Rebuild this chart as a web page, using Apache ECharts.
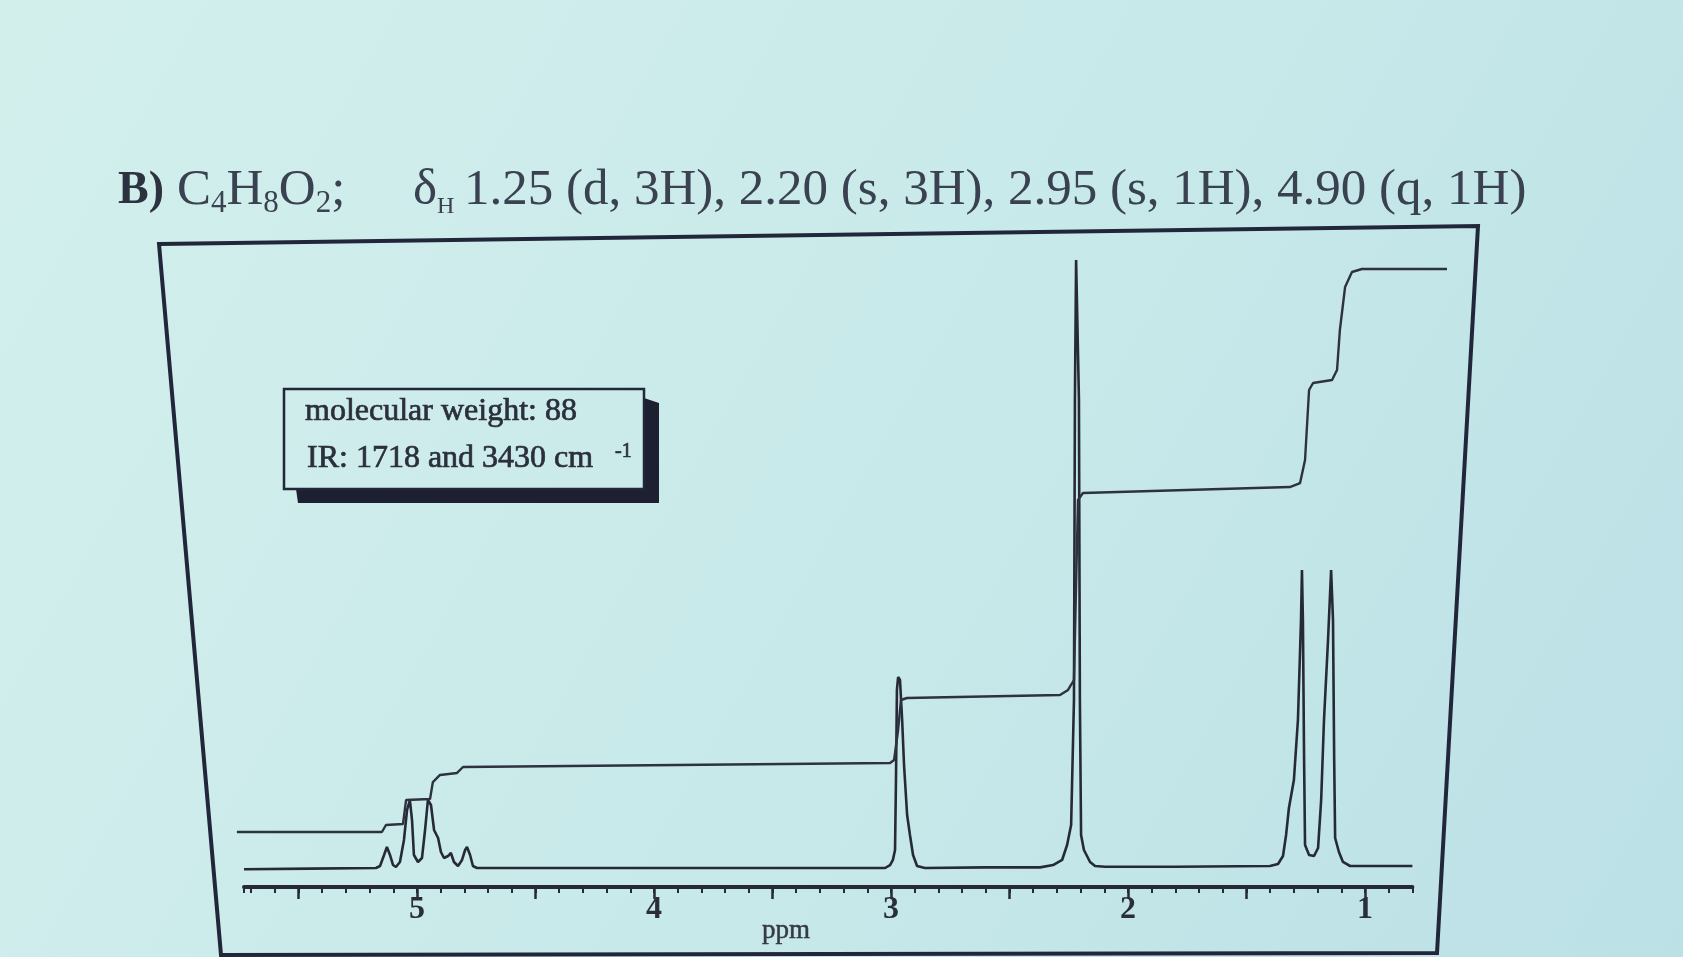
<!DOCTYPE html>
<html><head><meta charset="utf-8">
<script src="https://cdn.jsdelivr.net/npm/echarts@6/dist/echarts.min.js"></script>
<style>html,body{margin:0;padding:0;width:1683px;height:957px;overflow:hidden;background:#cbeaea}#c{width:1683px;height:957px}</style>
</head><body><div id="c"></div><script>
// 1H NMR trace (ppm, relative intensity; tallest peak = 100)
const spectrumPpm = [5.73,5.45,5.173,5.156,5.139,5.127,5.114,5.101,5.089,5.072,5.055,5.042,5.030,5.021,5.013,4.996,4.979,4.966,4.954,4.941,4.928,4.911,4.899,4.886,4.869,4.857,4.844,4.827,4.810,4.797,4.789,4.776,4.764,4.747,4.20,3.40,
  3.025,3.004,2.992,2.983,2.979,2.975,2.970,2.962,2.953,2.945,2.932,2.920,2.907,2.890,2.857,2.60,
  2.371,2.316,2.278,2.257,2.240,2.228,2.224,2.219,2.211,2.207,2.203,2.198,2.186,2.160,2.139,2.097,1.80,
  1.401,1.367,1.346,1.333,1.321,1.300,1.283,1.270,1.266,1.262,1.257,1.253,1.236,1.215,1.198,1.185,1.173,1.156,1.143,1.135,1.130,1.126,1.110,1.093,1.063,0.80];
const spectrumIntensity = [-0.2,-0.1,0,0.33,2.14,3.45,2.14,0.49,0.16,0.99,4.61,9.54,11.18,7.89,2.14,0.99,1.64,6.25,11.18,10.36,6.25,4.93,2.63,1.64,1.97,2.47,0.99,0.33,1.32,2.96,3.45,2.14,0.33,0,0,0,
  0,0.49,1.32,2.96,14.47,29.28,31.41,30.92,24.34,16.94,8.72,5.43,2.14,0.33,0,0.1,
  0.1,0.49,1.32,3.78,7.07,27.63,76.97,100,100,76.97,27.63,5.43,2.96,0.99,0.33,0.2,0.2,
  0.33,0.66,1.97,5.43,9.87,14.47,24.34,40.79,49.01,40.79,17.76,3.78,2.14,1.97,3.29,11.18,24.34,37.5,49.01,40.79,17.76,4.93,2.63,0.99,0.33,0.33];
// integration trace
const integralPpm = [5.760,5.148,5.131,5.059,5.046,4.945,4.933,4.903,4.831,4.806,3.004,2.987,2.970,2.958,2.933,2.287,2.253,2.228,2.211,2.190,1.317,1.274,1.253,1.236,1.219,1.139,1.118,1.106,1.084,1.055,1.013,0.654];
const integralValue = [5.92,5.92,7.07,7.24,11.18,11.35,14.14,15.30,15.63,16.61,17.27,17.76,22.70,27.63,27.96,28.45,29.28,30.92,60.53,61.68,62.66,63.32,67.11,78.62,79.77,80.26,81.91,88.49,95.56,98.03,98.52,98.52];
const tickLabels = ['1','2','3','4','5'];
const titleShifts = '1.25 (d, 3H), 2.20 (s, 3H), 2.95 (s, 1H), 4.90 (q, 1H)';

const ink = '#262a37';
const serif = "'Liberation Serif', 'DejaVu Serif', serif";
const chart = echarts.init(document.getElementById('c'), null, {renderer:'canvas'});
const spec = spectrumPpm.map((p,i)=>[p, spectrumIntensity[i]]);
const integ = integralPpm.map((p,i)=>[p, integralValue[i]]);
const boxText = {fill:'#2b2f3b', stroke:'#2b2f3b', lineWidth:0.7, textVerticalAlign:'middle'};
// pixel scale: 237 px per ppm, 5 ppm at x=417
const pxAt = p => 417 + (5 - p) * 237;

chart.setOption({
  animation:false,
  backgroundColor:{type:'linear',x:0,y:0,x2:1,y2:1,colorStops:[{offset:0,color:'#d2efec'},{offset:0.5,color:'#c9eaea'},{offset:1,color:'#bbe0e6'}]},
  grid:[
    {left:pxAt(5.73), right:1683 - pxAt(0.8), top:229.6, bottom:70},
    {left:pxAt(5.5), right:1683 - pxAt(1.0), top:229.6, bottom:70},
    {left:pxAt(5.8), right:1683 - pxAt(0.6), top:229.6, bottom:70}
  ],
  xAxis:[
    {type:'value', gridIndex:0, inverse:true, min:0.8, max:5.73, interval:0.1,
     axisLine:{show:true, onZero:false, lineStyle:{color:ink, width:4}},
     axisTick:{show:true, length:6, lineStyle:{color:ink, width:2}},
     axisLabel:{show:false}, splitLine:{show:false}},
    {type:'value', gridIndex:1, inverse:true, min:1, max:5.5, interval:0.5,
     axisLine:{show:false, onZero:false},
     axisTick:{show:true, length:12, lineStyle:{color:ink, width:2.5}},
     axisLabel:{show:true, margin:7, color:'#2a2e3a', fontFamily:serif, fontSize:32, fontWeight:'bold',
       formatter:v => tickLabels.includes(String(v)) ? String(v) : ''},
     splitLine:{show:false}},
    {type:'value', gridIndex:2, inverse:true, min:0.6, max:5.8, show:false, splitLine:{show:false}}
  ],
  yAxis:[
    {type:'value', gridIndex:0, min:-3.125, max:105, show:false, splitLine:{show:false}},
    {type:'value', gridIndex:1, min:-3.125, max:105, show:false, splitLine:{show:false}},
    {type:'value', gridIndex:2, min:-3.125, max:105, show:false, splitLine:{show:false}}
  ],
  series:[
    {type:'line', xAxisIndex:0, yAxisIndex:0, data:spec, symbol:'none', smooth:false,
     lineStyle:{color:ink, width:2.6}},
    {type:'line', xAxisIndex:2, yAxisIndex:2, data:integ, symbol:'none', smooth:false,
     lineStyle:{color:'#2e3240', width:2.4}}
  ],
  graphic:[
    {type:'polygon', shape:{points:[[159,244],[1478,226],[1437,953],[221,955]]},
     style:{fill:'transparent', stroke:'#22263a', lineWidth:4}, z:1},
    {type:'polygon', shape:{points:[[644,398],[659,403],[659,503],[298,503],[296,489],[644,489]]},
     style:{fill:'#1d2030'}, z:1},
    {type:'rect', shape:{x:284, y:389, width:360, height:100},
     style:{fill:'transparent', stroke:'#22263a', lineWidth:2.5}, z:2},
    {type:'text', x:305, y:412, z:3, style:Object.assign({text:'molecular weight: 88', font:"32px 'Liberation Serif'"}, boxText)},
    {type:'text', x:307, y:459, z:3, style:Object.assign({text:'IR: 1718 and 3430 cm', font:"32px 'Liberation Serif'"}, boxText)},
    {type:'text', x:615, y:452, z:3, style:Object.assign({text:'-1', font:"20px 'Liberation Serif'"}, boxText)},
    {type:'text', x:762, y:931, z:3, style:{text:'ppm', font:"27px 'Liberation Serif'", fill:'#363a47', stroke:'#363a47', lineWidth:0.5, textVerticalAlign:'middle'}},
    {type:'text', x:118, y:191, z:3, style:{text:'B)', font:"bold 46px 'Liberation Serif'", fill:'#2c3240', textVerticalAlign:'middle'}},
    {type:'text', x:177, y:191, z:3, style:{
      text:'{n|C}{s|4}{n|H}{s|8}{n|O}{s|2}{n|;}', textVerticalAlign:'middle',
      rich:{n:{fontFamily:serif, fontSize:51, lineHeight:56, fill:'#3a4150'},
            s:{fontFamily:serif, fontSize:31, lineHeight:36, verticalAlign:'bottom', fill:'#3a4150'}}}},
    {type:'text', x:413, y:191, z:3, style:{
      text:'{n|δ}{h|H}', textVerticalAlign:'middle',
      rich:{n:{fontFamily:serif, fontSize:51, lineHeight:56, fill:'#3a4150'},
            h:{fontFamily:serif, fontSize:24, lineHeight:38, verticalAlign:'bottom', fill:'#3a4150'}}}},
    {type:'text', x:464, y:191, z:3, style:{text:titleShifts, font:"51px 'Liberation Serif'", fill:'#3a4150', textVerticalAlign:'middle'}}
  ]
});
</script></body></html>
